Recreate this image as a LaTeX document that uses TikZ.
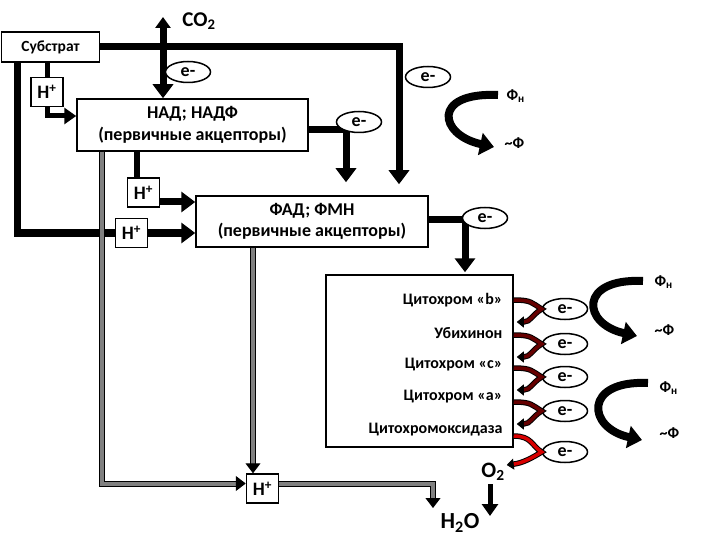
\documentclass[tikz,border=0pt]{standalone}
\usepackage{fontspec}
\setmainfont{Carlito}
\usetikzlibrary{arrows.meta,shapes.geometric,calc}

\newcommand{\bfsz}[1]{\fontsize{#1}{#1}\selectfont\bfseries}

\begin{document}
\begin{tikzpicture}[x=1pt,y=-1pt,
    box/.style={draw, line width=1.5pt, fill=white, align=center, inner sep=0pt},
    hbox/.style={box, minimum width=32pt, minimum height=29pt, font=\bfsz{19}},
    elec/.style={draw, ellipse, line width=1.5pt, fill=white, minimum width=45pt, minimum height=21pt, inner sep=0pt, font=\bfsz{18}},
    flow/.style={line width=7pt, -{Triangle[width=20pt,length=14pt]}},
    hflow/.style={line width=5pt, -{Triangle[width=16pt,length=12pt]}},
    greyflow/.style={draw=black, double=gray, line width=1pt, double distance=4pt, -{Triangle[width=15pt,length=10pt]}},
    redox/.style={draw=black, double=red!40!black, line width=1pt, double distance=3.5pt, -{Triangle[width=11pt,length=7pt]}},
    phos/.style={line width=8pt, -{Triangle[width=22pt,length=14pt]}},
    cytlbl/.style={anchor=east, font=\bfsz{16}},
    fi/.style={anchor=west, font=\bfsz{16}}]

    \useasboundingbox (0,0) rectangle (720,540);

    % boxes
    \node [box, minimum width=98pt, minimum height=30pt, font=\bfsz{15.5}] (sub) at (50.5,47) {Субстрат};
    \node [box, minimum width=231pt, minimum height=52pt, font=\fontsize{18}{22}\selectfont\bfseries] (nad) at (192.5,125) {НАД; НАДФ\\(первичные акцепторы)};
    \node [box, minimum width=232pt, minimum height=51pt, font=\fontsize{18}{21}\selectfont\bfseries] (fad) at (312,221.5) {ФАД; ФМН\\(первичные акцепторы)};
    \node [box, minimum width=187pt, minimum height=172pt] (cyt) at (419.5,361) {};
    \node [cytlbl] (cb) at (506,300) {Цитохром «b»};
    \node [cytlbl] (ubi) at (506,333) {Убихинон};
    \node [cytlbl] (cc) at (506,365) {Цитохром «c»};
    \node [cytlbl] (ca) at (506,397) {Цитохром «а»};
    \node [cytlbl] (cox) at (506,430) {Цитохромоксидаза};

    % H+
    \node [hbox] (hA) at (47,92) {H\textsuperscript{+}};
    \node [hbox] (hB) at (143.5,192.5) {H\textsuperscript{+}};
    \node [hbox] (hC) at (131.5,233) {H\textsuperscript{+}};
    \node [hbox] (hD) at (262.5,488.5) {H\textsuperscript{+}};

    % texts
    \node [font=\bfsz{21}] (co2) at (199,21) {CO\textsubscript{2}};
    \node [font=\bfsz{22}] (o2) at (493,472) {O\textsubscript{2}};
    \node [font=\bfsz{23}] (h2o) at (460,523) {H\textsubscript{2}O};
    \node [fi] (fn1) at (503,96) {Ф\textsubscript{н}};
    \node [fi] (tf1) at (501,143) {\textasciitilde Ф};
    \node [fi] (fn2) at (651,282) {Ф\textsubscript{н}};
    \node [fi] (tf2) at (651,330) {\textasciitilde Ф};
    \node [fi] (fn3) at (656,388) {Ф\textsubscript{н}};
    \node [fi] (tf3) at (656,433) {\textasciitilde Ф};

    % e- along the chain
    \foreach \i/\y in {1/309,2/344,3/377,4/411,5/452}
        \node [elec] (ec\i) at (565,\y) {e-};

    % black lines
    \draw [flow, shorten >=11pt] (sub.east) -| ($(fad.north)+(87,0)$);
    \coordinate (vent) at (163,17);
    \draw [line width=7pt, {Triangle[width=15pt,length=11pt]}-{Triangle[width=20pt,length=14pt]}] (vent) -- (vent |- nad.north);
    \draw [line width=5pt] (hA.north |- sub.south) -- (hA.north);
    \draw [hflow] (hA.south) |- ($(nad.west)+(0,-9)$);
    \draw [line width=7pt] ($(sub.south)+(-33,0)$) |- (hC.west);
    \draw [flow] (hC.east) -- (hC.east -| fad.west);
    \draw [line width=6pt] ($(hB.north |- nad.south)+(-7,0)$) -- ($(hB.north)+(-7,0)$);
    \draw [flow] ($(hB.east)+(0,9.5)$) -- ($(hB.east -| fad.west)+(0,9.5)$);
    \draw [flow, shorten >=13pt] ($(nad.east)+(0,5)$) -| ($(fad.north)+(34,0)$);
    \draw [flow, shorten >=2pt] ($(fad.east)+(0,-1.5)$) -| ($(cyt.north)+(45.5,0)$);
    \coordinate (o2out) at (490,516);
    \draw [hflow] (o2out |- o2.south) -- (o2out);

    % grey lines
    \draw [greyflow] ($(nad.south)+(-90.5,0)$) |- ($(hD.west)+(0,-5)$);
    \draw [greyflow] ($(hD.north |- fad.south)+(-9.5,0)$) -- ($(hD.north)+(-9.5,0)$);
    \coordinate (h2oin) at (433,508);
    \draw [greyflow] ($(hD.east)+(0,-5)$) -| (h2oin);

    % electron hops
    \foreach \i in {1,...,4}
        \draw [redox] ($(ec\i.west -| cyt.east)+(0,-9)$) .. controls +(18,0) and +(-10,-6) .. (ec\i.west) .. controls +(-10,6) and +(14,0) .. ($(ec\i.west -| cyt.east)+(3,13)$);
    \draw [redox, double=red!85!black] ($(ec5.west -| cyt.east)+(0,-16)$) .. controls +(18,0) and +(-10,-6) .. (ec5.west) .. controls +(-10,6) and +(16,-2) .. ($(ec5.west)+(-35,13)$);

    % phosphorylation
    \draw [phos] ($(fn1.west)+(-5,-1)$) .. controls +(-67,-3) and +(-55,-12) .. ($(tf1.west)+(-7,4)$);
    \draw [phos] ($(fn2.west)+(-8,-1)$) .. controls +(-65,-3) and +(-55,-12) .. ($(tf2.west)+(-14,6)$);
    \draw [phos] ($(fn3.west)+(-8,-5)$) .. controls +(-65,-3) and +(-55,-12) .. ($(tf3.west)+(-14,7)$);

    % e- on the upper lines
    \node [elec] (e1) at (188,72) {e-};
    \node [elec] (e2) at (359,122) {e-};
    \node [elec] (eT) at (428,77) {e-};
    \node [elec] (e3) at (485,218) {e-};
\end{tikzpicture}
\end{document}
